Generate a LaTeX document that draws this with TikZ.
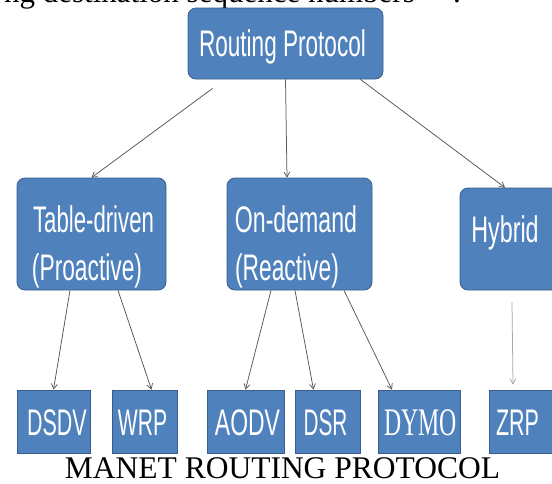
\documentclass[tikz,border=0pt]{standalone}
\usepackage{fontspec}
\setmainfont{Liberation Serif}
\newfontfamily\boxfont{Liberation Sans}
\usetikzlibrary{arrows.meta}
\definecolor{boxblue}{HTML}{4F81BD}
\definecolor{boxline}{HTML}{385D8A}
\definecolor{arrowgray}{HTML}{555555}
\definecolor{lightarrow}{HTML}{A5A5A5}
\newcommand{\sqz}[2][0.6]{\scalebox{#1}[1]{#2}}
\begin{document}
\begin{tikzpicture}[x=1pt,y=-1pt,
  blbox/.style={draw=boxline, line width=0.8pt, fill=boxblue, inner sep=0pt},
  rbox/.style={blbox, rounded corners=8pt},
  lbl/.style={text=white, inner sep=0pt, anchor=base, font=\boxfont\fontsize{37}{44}\selectfont},
  serlbl/.style={text=white, inner sep=0pt, anchor=base, font=\fontsize{39}{44}\selectfont},
  arr/.style={draw=arrowgray, line width=0.75pt, -{Straight Barb[length=5pt,width=6pt]}},
  larr/.style={arr, draw=lightarrow},
  prose/.style={inner sep=0pt, font=\fontsize{31}{36}\selectfont},
 ]
\useasboundingbox (0,0) rectangle (552,483);
\clip (0,0) rectangle (552,483);

% top cut-off text line
\node[prose, anchor=base east] (topline) at (415,2.5) {ng destination sequence numbers};
\node[prose, anchor=base west] (topdot) at (453,2.5) {.};

% level 0
\node[rbox, minimum width=195pt, minimum height=71pt] (rp) at (285.5,43.5) {};
\node[lbl] (rpt) at (282.5,56) {\sqz[0.61]{Routing Protocol}};

% level 1
\node[rbox, minimum width=149pt, minimum height=112pt] (td) at (91.5,234) {};
\node[lbl] (tdt1) at (93.5,232) {\sqz{Table-driven}};
\node[lbl] (tdt2) at (87,280) {\sqz[0.615]{(Proactive)}};

\node[rbox, minimum width=145pt, minimum height=112pt] (od) at (299.5,234) {};
\node[lbl] (odt1) at (296,232) {\sqz[0.625]{On-demand}};
\node[lbl] (odt2) at (287,280) {\sqz[0.615]{(Reactive)}};

\node[rbox, minimum width=100pt, minimum height=102pt] (hy) at (510,239) {};
\node[lbl] (hyt) at (505,242) {\sqz[0.63]{Hybrid}};

% level 2
\node[blbox, minimum width=73pt, minimum height=63pt] (dsdv) at (53.5,421.5) {};
\node[lbl] (dsdvt) at (57,435) {\sqz[0.58]{DSDV}};
\node[blbox, minimum width=65pt, minimum height=63pt] (wrp) at (144.5,421.5) {};
\node[lbl] (wrpt) at (142.5,435) {\sqz[0.57]{WRP}};
\node[blbox, minimum width=77pt, minimum height=63pt] (aodv) at (245.5,421.5) {};
\node[lbl] (aodvt) at (247.5,435) {\sqz[0.62]{AODV}};
\node[blbox, minimum width=65pt, minimum height=63pt] (dsr) at (327.5,421.5) {};
\node[lbl] (dsrt) at (325.5,435) {\sqz[0.56]{DSR}};
\node[blbox, minimum width=82pt, minimum height=63pt] (dymo) at (419,421.5) {};
\node[serlbl] (dymot) at (420.5,435) {\sqz[0.61]{DYMO}};
\node[blbox, minimum width=71pt, minimum height=63pt] (zrp) at (524.5,421.5) {};
\node[lbl] (zrpt) at (517.5,435) {\sqz[0.58]{ZRP}};

% connectors
\draw[arr] ([shift={(25,9)}]rp.south west) -- (td.north);
\draw[arr] (rp.south) -- ([xshift=-12.5pt]od.north);
\draw[arr] ([xshift=-23pt]rp.south east) -- ([xshift=-5pt]hy.north);

\draw[arr] ([xshift=-21.5pt]td.south) -- (dsdv.north);
\draw[arr] ([xshift=26.5pt]td.south) -- ([xshift=7pt]wrp.north);

\draw[arr] ([xshift=-28.5pt]od.south) -- (aodv.north);
\draw[arr] ([xshift=-4.5pt]od.south) -- ([xshift=-14pt]dsr.north);
\draw[arr] ([xshift=44.5pt]od.south) -- ([xshift=-27pt]dymo.north);

\draw[larr] ([shift={(2,12)}]hy.south) -- ([shift={(-11.5,-5)}]zrp.north);

% caption
\node[inner sep=0pt, anchor=base, font=\fontsize{31.5}{36}\selectfont] (cap) at (282.5,478.5) {MANET ROUTING PROTOCOL};
\end{tikzpicture}
\end{document}
